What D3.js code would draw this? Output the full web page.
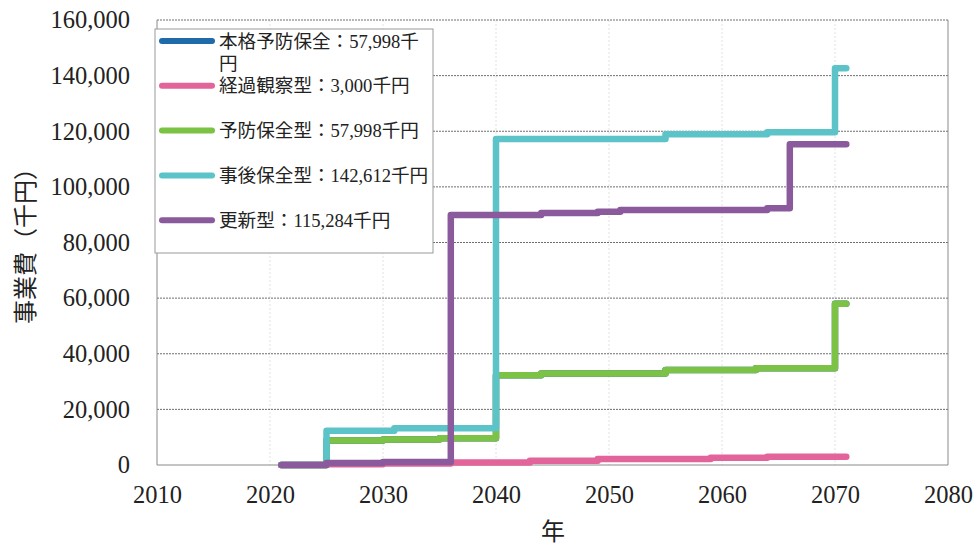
<!DOCTYPE html>
<html lang="ja">
<head>
<meta charset="utf-8">
<script src="https://cdn.jsdelivr.net/npm/d3@7"></script>
<style>
  html, body { margin: 0; padding: 0; background: #fff; }
  svg { display: block; }
</style>
</head>
<body>
<svg id="chart" width="977" height="546"></svg>
<script>
// Cumulative project cost per maintenance strategy (thousand yen), step series by year.
const seriesNames = ["本格予防保全", "経過観察型", "予防保全型", "事後保全型", "更新型"];
const seriesColors = ["#1f6aa8", "#e2649a", "#7cc244", "#5cc4c8", "#8a5a9c"];

const fullPreventiveYears  = [2021, 2025, 2030, 2035, 2040, 2044, 2055, 2063, 2070, 2071];
const fullPreventiveValues = [0, 8800, 9200, 9600, 32300, 32900, 34200, 34800, 57998, 57998];

const observationYears  = [2021, 2025, 2030, 2036, 2043, 2049, 2059, 2064, 2071];
const observationValues = [0, 300, 500, 900, 1500, 2200, 2600, 3000, 3000];

const preventiveYears  = [2021, 2025, 2030, 2035, 2040, 2044, 2055, 2063, 2070, 2071];
const preventiveValues = [0, 8800, 9200, 9600, 32300, 32900, 34200, 34800, 57998, 57998];

const correctiveYears  = [2021, 2025, 2031, 2040, 2055, 2064, 2070, 2071];
const correctiveValues = [0, 12300, 13200, 117200, 118900, 119600, 142612, 142612];

const renewalYears  = [2021, 2025, 2030, 2036, 2044, 2049, 2051, 2064, 2066, 2071];
const renewalValues = [0, 700, 1100, 89900, 90600, 91100, 91700, 92300, 115284, 115284];

const seriesTotals = [57998, 3000, 57998, 142612, 115284];

const xTicks = [2010, 2020, 2030, 2040, 2050, 2060, 2070, 2080];
const yTicks = [0, 20000, 40000, 60000, 80000, 100000, 120000, 140000, 160000];

const seriesYears  = [fullPreventiveYears, observationYears, preventiveYears, correctiveYears, renewalYears];
const seriesValues = [fullPreventiveValues, observationValues, preventiveValues, correctiveValues, renewalValues];

const series = seriesNames.map((name, i) => ({
  name,
  color: seriesColors[i],
  total: seriesTotals[i],
  points: seriesYears[i].map((yr, j) => ({ year: yr, value: seriesValues[i][j] }))
}));

const svg = d3.select("#chart");
const serif = "'Liberation Serif', 'Times New Roman', 'Noto Sans CJK JP', serif";
const cjk = "'Liberation Serif', 'Noto Sans CJK JP', serif";

const plot = { left: 157, right: 948, top: 20, bottom: 465 };

const x = d3.scaleLinear().domain([2010, 2080]).range([plot.left, plot.right]);
const y = d3.scaleLinear().domain([0, 160000]).range([plot.bottom, plot.top]);

// vertical grid (faint)
svg.append("g")
  .selectAll("line")
  .data(xTicks.slice(1, -1))
  .join("line")
  .attr("x1", d => x(d)).attr("x2", d => x(d))
  .attr("y1", plot.top).attr("y2", plot.bottom)
  .attr("stroke", "#e2e2e2")
  .attr("stroke-width", 1)
  .attr("stroke-dasharray", "2,2");

// horizontal grid
svg.append("g")
  .selectAll("line")
  .data(yTicks.slice(1))
  .join("line")
  .attr("x1", plot.left).attr("x2", plot.right)
  .attr("y1", d => y(d)).attr("y2", d => y(d))
  .attr("stroke", "#6e6e6e")
  .attr("stroke-width", 1)
  .attr("stroke-dasharray", "2,1");

// frame: left axis, bottom axis, right edge
svg.append("path")
  .attr("d", `M${plot.left},${plot.top}V${plot.bottom}H${plot.right}V${plot.top}`)
  .attr("fill", "none")
  .attr("stroke", "#8a8a8a")
  .attr("stroke-width", 1);

// y axis labels
const yAxis = d3.axisLeft(y).tickValues(yTicks).tickSize(0).tickPadding(27)
  .tickFormat(d3.format(","));
svg.append("g")
  .attr("transform", `translate(${plot.left},0)`)
  .call(yAxis)
  .call(g => g.select(".domain").remove())
  .call(g => g.selectAll("text")
    .attr("font-family", serif)
    .attr("font-size", 24.5)
    .attr("fill", "#222"));

// x axis labels
const xAxis = d3.axisBottom(x).tickValues(xTicks).tickSize(0).tickPadding(21)
  .tickFormat(d3.format("d"));
svg.append("g")
  .attr("transform", `translate(0,${plot.bottom})`)
  .call(xAxis)
  .call(g => g.select(".domain").remove())
  .call(g => g.selectAll("text")
    .attr("font-family", serif)
    .attr("font-size", 24.5)
    .attr("fill", "#222"));

// axis titles
svg.append("text")
  .attr("transform", "translate(34,240) rotate(-90)")
  .attr("text-anchor", "middle")
  .attr("font-family", cjk)
  .attr("font-size", 24)
  .attr("fill", "#222")
  .text("事業費（千円）");

svg.append("text")
  .attr("x", 553).attr("y", 540)
  .attr("text-anchor", "middle")
  .attr("font-family", cjk)
  .attr("font-size", 24)
  .attr("fill", "#222")
  .text("年");

// series lines
const line = d3.line()
  .x(d => x(d.year))
  .y(d => y(d.value))
  .curve(d3.curveStepAfter);

svg.append("g")
  .selectAll("path")
  .data(series)
  .join("path")
  .attr("d", d => line(d.points))
  .attr("fill", "none")
  .attr("stroke", d => d.color)
  .attr("stroke-width", 6.5)
  .attr("stroke-linejoin", "round")
  .attr("stroke-linecap", "round");

// legend
const legend = { x: 155, y: 29, w: 278, h: 224, rowY: 41, rowStep: 44.8 };
const lg = svg.append("g");
lg.append("rect")
  .attr("x", legend.x).attr("y", legend.y)
  .attr("width", legend.w).attr("height", legend.h)
  .attr("fill", "#fff")
  .attr("stroke", "#9a9a9a")
  .attr("stroke-width", 1);

const fmt = d3.format(",");
const textX = 219;
const maxW = legend.x + legend.w - textX - 4;

series.forEach((s, i) => {
  const cy = legend.rowY + i * legend.rowStep;
  lg.append("line")
    .attr("x1", 162).attr("x2", 212)
    .attr("y1", cy).attr("y2", cy)
    .attr("stroke", s.color)
    .attr("stroke-width", 6)
    .attr("stroke-linecap", "round");

  const label = `${s.name}：${fmt(s.total)}千円`;
  const t = lg.append("text")
    .attr("x", textX).attr("y", cy + 6.5)
    .attr("font-family", cjk)
    .attr("font-size", 18.6)
    .attr("fill", "#222");
  // wrap characters onto a second line when the label is wider than the box
  let first = t.append("tspan").attr("x", textX).text(label);
  if (first.node().getComputedTextLength() > maxW) {
    let cut = label.length;
    while (cut > 1) {
      cut--;
      first.text(label.slice(0, cut));
      if (first.node().getComputedTextLength() <= maxW) break;
    }
    t.append("tspan").attr("x", textX).attr("dy", 22).text(label.slice(cut));
  }
});
</script>
</body>
</html>
